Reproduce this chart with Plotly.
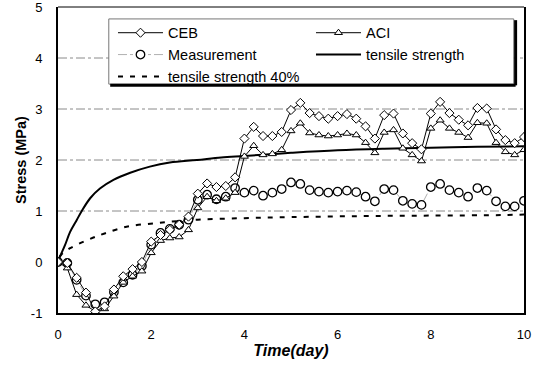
import plotly.graph_objects as go

TIME = [0, 0.2, 0.4, 0.6, 0.8, 1.0, 1.2, 1.4, 1.6, 1.8, 2.0, 2.2, 2.4, 2.6, 2.8,
        3.0, 3.2, 3.4, 3.6, 3.8, 4.0, 4.2, 4.4, 4.6, 4.8, 5.0, 5.2, 5.4, 5.6, 5.8,
        6.0, 6.2, 6.4, 6.6, 6.8, 7.0, 7.2, 7.4, 7.6, 7.8, 8.0, 8.2, 8.4, 8.6, 8.8,
        9.0, 9.2, 9.4, 9.6, 9.8, 10.0]

CEB = [0, -0.02, -0.31, -0.6, -0.97, -0.87, -0.54, -0.28, -0.14, 0.0, 0.4,
       0.53, 0.63, 0.73, 0.89, 1.34, 1.54, 1.47, 1.49, 1.66, 2.42, 2.65, 2.47,
       2.47, 2.55, 2.98, 3.12, 2.92, 2.86, 2.81, 2.86, 2.9, 2.81, 2.66, 2.42,
       2.88, 2.91, 2.52, 2.33, 2.21, 2.91, 3.14, 2.92, 2.79, 2.68, 3.02, 3.01,
       2.6, 2.39, 2.33, 2.45]

ACI = [0, -0.12, -0.64, -0.85, -0.97, -0.92, -0.67, -0.4, -0.28, -0.18, 0.18,
       0.42, 0.47, 0.49, 0.63, 1.06, 1.28, 1.2, 1.25, 1.36, 2.07, 2.28, 2.1,
       2.12, 2.2, 2.57, 2.72, 2.53, 2.49, 2.47, 2.49, 2.52, 2.49, 2.34, 2.14,
       2.54, 2.59, 2.23, 2.1, 1.98, 2.62, 2.78, 2.62, 2.54, 2.44, 2.73, 2.72,
       2.34, 2.16, 2.1, 2.2]

MEASUREMENT = [0, -0.02, -0.35, -0.66, -0.83, -0.79, -0.59, -0.4, -0.25, -0.08,
               0.34, 0.57, 0.65, 0.73, 0.83, 1.22, 1.32, 1.23, 1.28, 1.45, 1.36,
               1.4, 1.3, 1.36, 1.43, 1.56, 1.53, 1.41, 1.38, 1.36, 1.38, 1.4,
               1.37, 1.28, 1.19, 1.43, 1.41, 1.2, 1.14, 1.12, 1.47, 1.53, 1.41,
               1.36, 1.28, 1.45, 1.4, 1.19, 1.09, 1.09, 1.2]

TS_TIME = [0, 0.04, 0.15, 0.26, 0.4, 0.51, 0.69, 0.9, 1.19, 1.55, 1.97, 2.4,
           2.98, 3.5, 4.0, 5.0, 6.0, 7.0, 8.0, 9.0, 10.0]
TS = [0, 0.1, 0.33, 0.59, 0.82, 1.0, 1.25, 1.44, 1.61, 1.75, 1.87, 1.95,
      2.0, 2.05, 2.08, 2.14, 2.19, 2.22, 2.24, 2.26, 2.27]

TS40_TIME = [0.03, 0.1, 0.26, 0.5, 0.76, 1.0, 1.47, 2.19, 3.0, 4.0, 5.0, 6.5,
             8.0, 9.5, 10.0]
TS40 = [0.1, 0.17, 0.27, 0.38, 0.48, 0.56, 0.69, 0.77, 0.83, 0.86, 0.88, 0.9,
        0.91, 0.92, 0.93]

GRID_Y = [1, 2, 3, 4]
X_TICKS = [0, 2, 4, 6, 8, 10]
Y_TICKS = [-1, 0, 1, 2, 3, 4, 5]
Y_TICK_TEXT = ["-1", "0", "1", "2", "3", "4", "5"]

FONT = "Liberation Sans, Arial, sans-serif"

fig = go.Figure()

fig.add_trace(go.Scatter(
    x=TS40_TIME, y=TS40, mode="lines", name="tensile strength 40%",
    line=dict(color="black", width=2, dash="5px,7px", shape="spline"),
    legendrank=5))
fig.add_trace(go.Scatter(
    x=TS_TIME, y=TS, mode="lines", name="tensile strength",
    line=dict(color="black", width=2, shape="spline"),
    legendrank=4))
fig.add_trace(go.Scatter(
    x=TIME, y=MEASUREMENT, mode="lines+markers", name="Measurement",
    line=dict(color="#b0b0b0", width=1, dash="dashdot"),
    marker=dict(symbol="circle", size=8.5, color="white",
                line=dict(color="black", width=1.3)),
    legendrank=3))
fig.add_trace(go.Scatter(
    x=TIME, y=ACI, mode="lines+markers", name="ACI",
    line=dict(color="black", width=1),
    marker=dict(symbol="triangle-up", size=7, color="white",
                line=dict(color="black", width=1)),
    legendrank=2))
fig.add_trace(go.Scatter(
    x=TIME, y=CEB, mode="lines+markers", name="CEB",
    line=dict(color="black", width=1),
    marker=dict(symbol="diamond", size=7, color="white",
                line=dict(color="black", width=1)),
    legendrank=1))

shapes = []
for gy in GRID_Y:
    shapes.append(dict(type="line", xref="paper", yref="y", x0=0, x1=1,
                       y0=gy, y1=gy, layer="below",
                       line=dict(color="#8a8a8a", width=1, dash="dashdot")))
# top border (thin)
shapes.append(dict(type="line", xref="paper", yref="paper", x0=0, x1=1,
                   y0=1, y1=1, line=dict(color="black", width=1)))
# legend box with shadow
shapes.append(dict(type="rect", xref="paper", yref="paper",
                   x0=0.109, x1=0.978, y0=0.748, y1=0.961, layer="above",
                   fillcolor="white", line=dict(color="#777777", width=1)))
shapes.append(dict(type="line", xref="paper", yref="paper",
                   x0=0.112, x1=0.982, y0=0.744, y1=0.744,
                   line=dict(color="black", width=3)))
shapes.append(dict(type="line", xref="paper", yref="paper",
                   x0=0.982, x1=0.982, y0=0.744, y1=0.957,
                   line=dict(color="black", width=3)))

fig.update_layout(
    width=538, height=374,
    margin=dict(l=58, r=14, t=7, b=61),
    paper_bgcolor="white", plot_bgcolor="white",
    font=dict(family=FONT, size=13, color="black"),
    shapes=shapes,
    legend=dict(orientation="h", x=0.118, y=0.968, xanchor="left",
                yanchor="top", bgcolor="rgba(0,0,0,0)", borderwidth=0,
                entrywidth=138, entrywidthmode="pixels", itemwidth=45,
                font=dict(family=FONT, size=14.5, color="black"),
                traceorder="normal"),
    xaxis=dict(range=[0, 10], tickvals=X_TICKS, showgrid=False,
               zeroline=False, showline=True, linecolor="black", linewidth=2,
               ticks="", ticklabelstandoff=8, automargin=False,
               ticklabeloverflow="allow",
               tickfont=dict(family=FONT, size=13),
               title=dict(text="<b><i>Time(day)</i></b>", standoff=4,
                          font=dict(family=FONT, size=16))),
    yaxis=dict(range=[-1, 5], tickvals=Y_TICKS, ticktext=Y_TICK_TEXT,
               showgrid=False,
               zeroline=False, showline=True, linecolor="black", linewidth=2,
               mirror=True, ticks="", ticklabelstandoff=11, automargin=False,
               ticklabeloverflow="allow",
               tickfont=dict(family=FONT, size=13),
               title=dict(text="<b>Stress (MPa)</b>", standoff=1,
                          font=dict(family=FONT, size=14.5))),
)

fig.write_html("out.html",
               config={"displayModeBar": False},
               post_script="document.body.style.margin='0';"
                           "document.body.style.padding='0';")
